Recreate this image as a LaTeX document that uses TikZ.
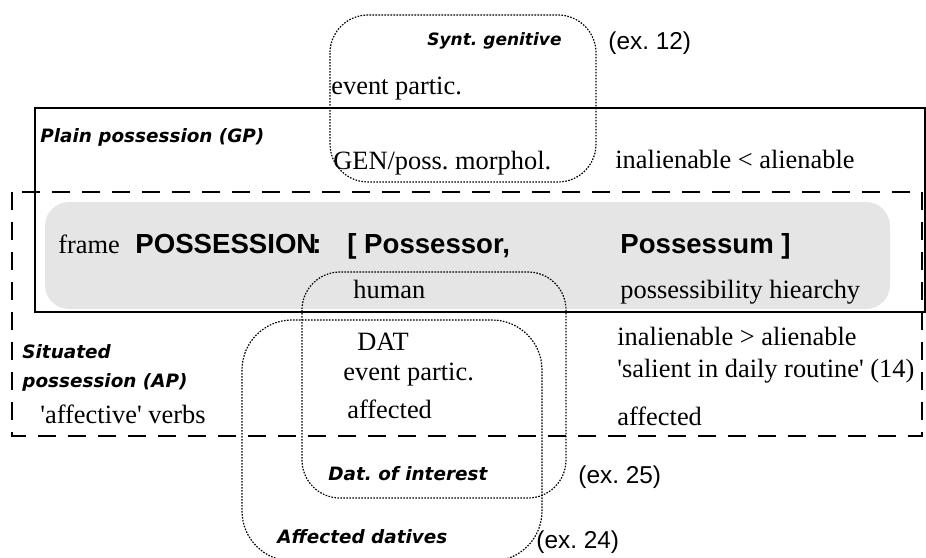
\documentclass[tikz,border=0pt]{standalone}
\usepackage{fontspec}
\setmainfont{Liberation Serif}
\setsansfont{Liberation Sans}
\newfontfamily\comica{DejaVu Sans}
\frenchspacing

\begin{document}
\begin{tikzpicture}[x=0.5pt,y=-0.5pt,every node/.style={inner sep=0pt,anchor=base west,font=\fontsize{13.2}{15}\selectfont}, %Coordenadas en pixeles, y para abajo
    marco/.style={line width=1pt},
    discont/.style={line width=0.8pt,dash pattern=on 9pt off 6pt},
    punteado/.style={line width=0.6pt,dash pattern=on 0.8pt off 0.7pt,rounded corners=19pt},
    titulo/.style={font=\fontsize{9.2}{11}\selectfont\comica\bfseries\itshape},
    grande/.style={font=\fontsize{13.8}{16}\selectfont\sffamily\bfseries},
    ejemplo/.style={font=\fontsize{12.2}{14}\selectfont\sffamily}]
    %Los cuadros van primero, el texto arriba de todo

    \useasboundingbox (0,0) rectangle (926,557);

    \fill[gray!20,rounded corners=12pt] (45,202) rectangle (890,309); %La franja gris del frame
    \draw[marco] (35,108) rectangle (925,312); %GP
    \draw[discont] (12,192) rectangle (922,436); %AP
    \draw[punteado] (330,15) rectangle (596,182); %genitivo
    \draw[punteado] (302,272) rectangle (566,498); %dativo de interes
    \draw[punteado,rounded corners=25pt] (242,320) rectangle (542,561); %dativos afectados (se sale por abajo)

    %Arriba
    \node[titulo,font=\fontsize{8.5}{10}\selectfont\comica\bfseries\itshape] (synt) at (427,45) {Synt. genitive};
    \node[ejemplo] (ex12) at (608,49) {(ex. 12)};
    \node (partica) at (331,94) {event partic.};
    \node[titulo] (gp) at (40,142) {Plain possession (GP)};
    \node (gen) at (333,169) {GEN/poss. morphol.};
    \node (menor) at (615,168) {inalienable < alienable};

    %El frame
    \node (frame) at (58,253) {frame};
    \node[grande] (poss) at (135,253) {POSSESSION\kern-2pt:};
    \node[grande] (possor) at (347,253) {[ Possessor,};
    \node[grande] (possum) at (620,253) {Possessum ]};
    \node (human) at (353,298) {human};
    \node (hier) at (620,298) {possessibility hiearchy};

    %Abajo (AP y dativos)
    \node[titulo] (sit) at (22,358) {Situated};
    \node[titulo] (sitpos) at (22,387) {possession (AP)};
    \node (verbs) at (40,423) {\textquotesingle affective\textquotesingle{} verbs};
    \node (dat) at (357,350) {DAT};
    \node (particb) at (343,380) {event partic.};
    \node (afecta) at (347,418) {affected};
    \node (mayor) at (617,345) {inalienable > alienable};
    \node (salient) at (617,377) {\textquotesingle salient in daily routine\textquotesingle{} (14)};
    \node (afectb) at (617,425) {affected};
    \node[titulo] (datint) at (328,480) {Dat. of interest};
    \node[ejemplo] (ex25) at (578,483) {(ex. 25)};
    \node[titulo] (afdat) at (277,543) {Affected datives};
    \node[ejemplo] (ex24) at (536,548) {(ex. 24)};

\end{tikzpicture}
\end{document}
